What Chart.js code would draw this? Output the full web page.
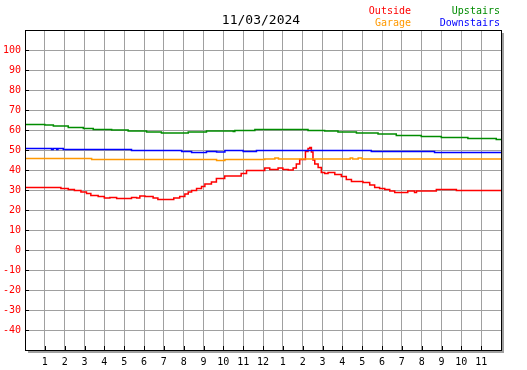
<!DOCTYPE html>
<html>
<head>
<meta charset="utf-8">
<script src="https://cdn.jsdelivr.net/npm/chart.js@4/dist/chart.umd.min.js"></script>
<style>
    body { margin: 0; background: #fff; }
    #wrap { position: relative; width: 527px; height: 370px; font-family: 'DejaVu Sans Mono', monospace; }
    .txt { position: absolute; white-space: nowrap; }
    #title { left: 0; width: 522px; top: 12px; text-align: center; font-size: 13px; line-height: 16px; }
    .leg { font-size: 10px; line-height: 12px; text-align: right; }
</style>
</head>
<body>
<div id="wrap">
    <canvas id="chart" width="527" height="370"></canvas>
    <div id="title" class="txt">11/03/2024</div>
    <div class="txt leg" style="right:116px; top:5px; color:#ff0000;">Outside</div>
    <div class="txt leg" style="right:116px; top:17px; color:#ff9900;">Garage</div>
    <div class="txt leg" style="right:27px; top:5px; color:#008c00;">Upstairs</div>
    <div class="txt leg" style="right:27px; top:17px; color:#0000ff;">Downstairs</div>
</div>
<script>
// Data (hours since midnight, temperature)
const xTickLabels = ['1', '2', '3', '4', '5', '6', '7', '8', '9', '10', '11', '12',
    '1', '2', '3', '4', '5', '6', '7', '8', '9', '10', '11'];

const outsideHours = [0, 1.81, 2.18, 2.49, 2.82, 3.1, 3.32, 3.69, 4.0, 4.28, 4.62, 5.37, 5.63, 5.79,
    6.05, 6.46, 6.7, 7.5, 7.8, 8.06, 8.23, 8.4, 8.65, 8.9, 9.07, 9.4, 9.65, 10.07, 10.9, 11.17,
    12.09, 12.34, 12.76, 13.0, 13.27, 13.52, 13.68, 13.85, 14.14, 14.27, 14.36, 14.44, 14.52, 14.61,
    14.78, 14.94, 15.11, 15.28, 15.62, 15.95, 16.2, 16.46, 17.04, 17.38, 17.63, 17.88, 18.14, 18.39,
    18.64, 19.3, 19.64, 19.74, 20.74, 21.75, 24];
const outsideTemps = [31.3, 30.8, 30.3, 29.8, 29.0, 28.2, 27.3, 26.7, 26.0, 26.3, 25.7, 26.3, 26.0, 27.0,
    26.7, 26.0, 25.3, 26.0, 26.7, 28.0, 29.0, 29.7, 30.7, 31.7, 33.0, 34.0, 35.7, 37.0, 38.3, 39.7,
    41.0, 40.3, 41.0, 40.3, 40.0, 41.0, 43.0, 45.3, 49.2, 50.8, 51.3, 49.0, 45.0, 43.0,
    41.3, 38.8, 38.3, 38.8, 37.7, 36.7, 35.3, 34.3, 33.7, 32.5, 31.3, 30.8, 30.3, 29.5,
    28.8, 29.5, 28.8, 29.5, 30.2, 29.8, 29.8];

const upstairsHours = [0, 1.0, 1.43, 2.18, 2.94, 3.44, 4.37, 5.2, 6.13, 6.88, 8.23, 9.15, 10.5, 10.58,
    11.59, 14.27, 15.11, 15.78, 16.71, 17.8, 18.72, 19.98, 20.99, 22.33, 23.76, 24];
const upstairsTemps = [62.8, 62.5, 62.0, 61.3, 60.8, 60.3, 60.0, 59.5, 59.0, 58.5, 59.0, 59.5, 59.2, 59.8,
    60.3, 59.8, 59.5, 59.0, 58.5, 58.0, 57.3, 56.8, 56.3, 55.8, 55.3, 55.3];

const downstairsHours = [0, 1.34, 1.42, 1.6, 1.66, 1.93, 5.37, 7.9, 8.4, 9.15, 9.66, 10.08, 11.0, 11.67,
    17.46, 20.65, 24];
const downstairsTemps = [50.8, 50.3, 50.8, 50.3, 50.8, 50.3, 49.8, 49.3, 48.8, 49.3, 49.0, 49.8, 49.3, 49.8,
    49.3, 48.8, 48.8];

const garageHours = [0, 3.36, 9.66, 10.08, 12.09, 12.6, 12.78, 16.4, 16.52, 16.8, 17.0, 24];
const garageTemps = [45.8, 45.3, 44.8, 45.3, 45.5, 46.0, 45.5, 46.0, 45.5, 46.0, 45.5, 45.5];

function points(hours, temps) {
    return hours.map((h, i) => ({ x: h, y: temps[i] }));
}

// Frame, shadow and inner tick marks
const framePlugin = {
    id: 'frame',
    afterDraw(chart) {
        const { ctx, chartArea: a, scales } = chart;
        ctx.save();
        ctx.fillStyle = '#a0a0a0';
        ctx.fillRect(a.right + 1, a.top + 3, 2, a.bottom - a.top);
        ctx.fillRect(a.left + 3, a.bottom + 1, a.right - a.left, 2);
        ctx.strokeStyle = '#000';
        ctx.lineWidth = 1;
        ctx.strokeRect(Math.round(a.left) + 0.5, Math.round(a.top) + 0.5,
            Math.round(a.right - a.left), Math.round(a.bottom - a.top));
        ctx.beginPath();
        for (let v = -40; v <= 100; v += 10) {
            const y = Math.round(scales.y.getPixelForValue(v)) + 0.5;
            ctx.moveTo(a.left, y);
            ctx.lineTo(a.left + 4, y);
        }
        for (let h = 1; h <= 23; h++) {
            const x = Math.round(scales.x.getPixelForValue(h)) + 0.5;
            ctx.moveTo(x, a.bottom);
            ctx.lineTo(x, a.bottom - 4);
        }
        ctx.stroke();
        ctx.restore();
    }
};

const seriesStyle = { stepped: true, borderWidth: 1.5, pointRadius: 0, fill: false };

new Chart(document.getElementById('chart'), {
    type: 'line',
    data: {
        datasets: [
            { label: 'Upstairs', data: points(upstairsHours, upstairsTemps), borderColor: '#008c00', ...seriesStyle },
            { label: 'Garage', data: points(garageHours, garageTemps), borderColor: '#ff9900', ...seriesStyle },
            { label: 'Downstairs', data: points(downstairsHours, downstairsTemps), borderColor: '#0000ff', ...seriesStyle },
            { label: 'Outside', data: points(outsideHours, outsideTemps), borderColor: '#ff0000', ...seriesStyle }
        ]
    },
    options: {
        responsive: false,
        animation: false,
        layout: { padding: { left: 0, top: 30, right: 26, bottom: 0 } },
        plugins: {
            legend: { display: false },
            tooltip: { enabled: false }
        },
        scales: {
            x: {
                type: 'linear',
                min: 0,
                max: 24,
                afterFit: (s) => { s.height = 20; },
                grid: { color: '#a0a0a0', drawTicks: false },
                border: { display: false },
                ticks: {
                    stepSize: 1,
                    padding: 6,
                    maxRotation: 0,
                    autoSkip: false,
                    color: '#000',
                    font: { family: 'DejaVu Sans Mono', size: 10 },
                    callback: (v) => (v >= 1 && v <= 23) ? xTickLabels[v - 1] : null
                }
            },
            y: {
                min: -50,
                max: 110,
                afterFit: (s) => { s.width = 25; },
                grid: { color: '#a0a0a0', drawTicks: false },
                border: { display: false },
                ticks: {
                    stepSize: 10,
                    padding: 4,
                    color: '#ff0000',
                    font: { family: 'DejaVu Sans Mono', size: 10 },
                    callback: (v) => (v >= -40 && v <= 100) ? String(v) : null
                }
            }
        }
    },
    plugins: [framePlugin]
});
</script>
</body>
</html>
